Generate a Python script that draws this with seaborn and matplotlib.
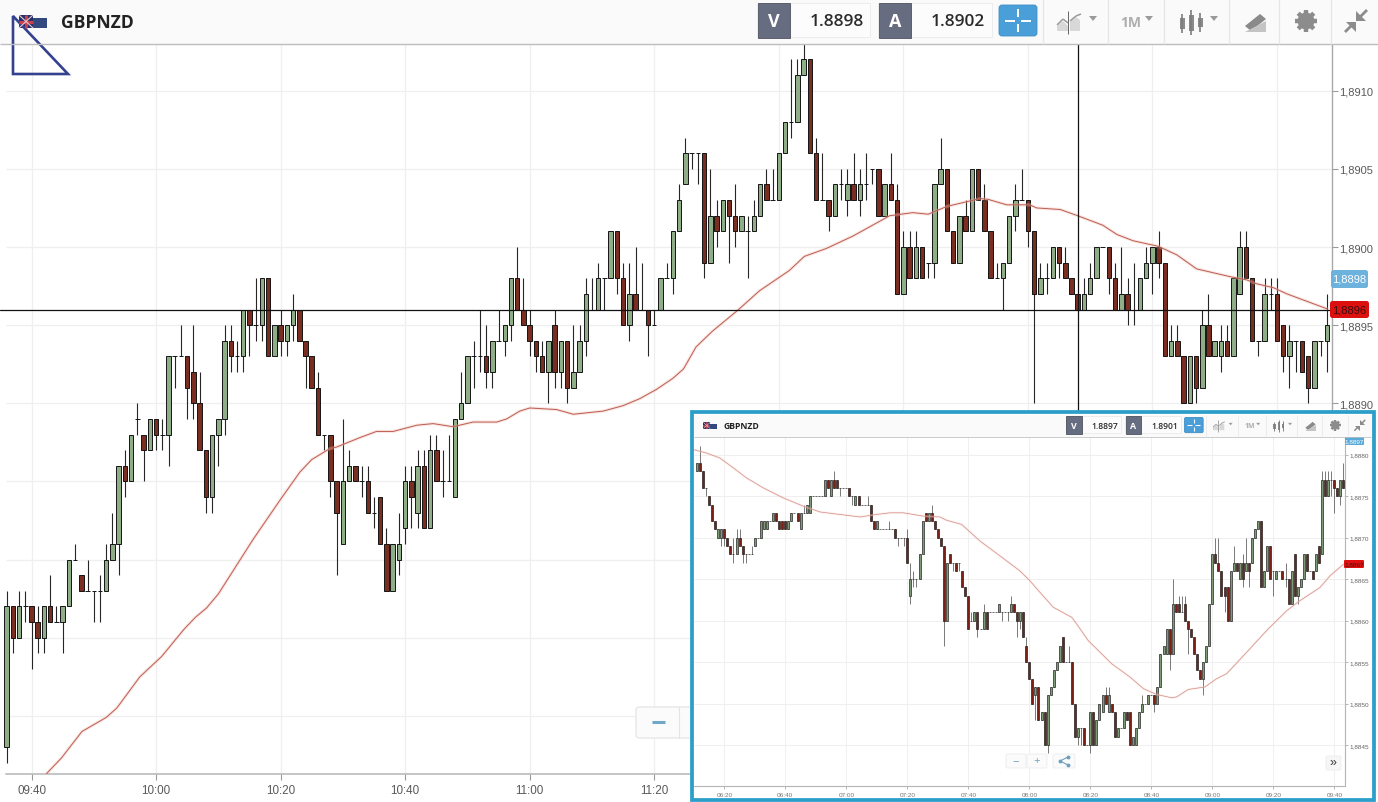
import numpy as np
import pandas as pd
import matplotlib
matplotlib.use("Agg")
import matplotlib.pyplot as plt
from matplotlib.patches import Rectangle, FancyBboxPatch, Polygon, Circle
import seaborn as sns

# ---- main chart data, prices given as pips above 1.8800 ----
main_start_minute = -4  # minutes after 09:40

main_open = [
    68, 77, 75, 77, 77, 76, 75, 77, 76, 76, 77, 80, 79, 78, 78, 78, 78, 80, 81, 86,
    85, 89, 88, 87, 89, 88, 88, 93, 93, 93, 92, 90, 87, 84, 88, 89, 94, 93, 93, 96,
    95, 95, 98, 93, 95, 94, 95, 96, 94, 93, 91, 88, 88, 85, 81, 85, 86, 85, 85, 83,
    84, 81, 78, 80, 82, 85, 83, 86, 82, 87, 85, 85, 84, 89, 90, 93, 93, 93, 92, 94,
    94, 95, 98, 96, 95, 94, 93, 92, 95, 92, 94, 91, 92, 94, 96, 96, 98, 98, 101, 98,
    95, 97, 96, 96, 95, 96, 98, 98, 101, 104, 106, 106, 106, 99, 102, 101, 103, 102, 101, 101,
    101, 102, 104, 103, 103, 106, 108, 108, 111, 112, 106, 103, 103, 102, 104, 103, 104, 103, 104, 105,
    105, 102, 104, 103, 97, 100, 98, 100, 99, 99, 104, 105, 101, 99, 102, 101, 105, 103, 101, 98,
    98, 99, 102, 103, 103, 101, 97, 98, 98, 100, 99, 98, 97, 96, 97, 98, 100, 100, 98, 96,
    97, 96, 96, 98, 99, 100, 99, 93, 94, 93, 90, 93, 91, 95, 93, 93, 94, 93, 97, 100,
    98, 94, 94, 97, 97, 95, 93, 94, 94, 93, 91, 94, 94,
]
main_close = [
    77, 75, 77, 77, 76, 75, 77, 76, 76, 77, 80, 80, 78, 78, 78, 78, 80, 81, 86, 85,
    88, 89, 87, 89, 88, 88, 93, 93, 93, 91, 90, 87, 84, 88, 89, 94, 93, 93, 96, 95,
    95, 98, 93, 95, 94, 95, 96, 94, 93, 91, 88, 88, 85, 83, 85, 86, 85, 85, 83, 83,
    81, 78, 81, 81, 85, 84, 86, 82, 87, 85, 85, 85, 89, 90, 93, 93, 93, 92, 94, 94,
    95, 98, 96, 95, 94, 93, 92, 94, 92, 94, 91, 92, 94, 97, 96, 98, 98, 101, 98, 95,
    97, 96, 96, 95, 95, 98, 98, 101, 103, 106, 106, 106, 99, 102, 101, 103, 102, 101, 102, 101,
    102, 104, 103, 103, 106, 108, 108, 111, 112, 106, 103, 103, 102, 104, 104, 104, 103, 104, 104, 105,
    102, 104, 103, 97, 100, 98, 100, 98, 99, 104, 105, 101, 99, 102, 101, 105, 103, 101, 98, 98,
    99, 102, 103, 103, 101, 97, 98, 98, 100, 99, 98, 97, 96, 97, 98, 100, 100, 98, 96, 97,
    96, 96, 98, 99, 100, 99, 93, 94, 93, 90, 93, 91, 95, 93, 94, 94, 93, 98, 100, 98,
    94, 94, 97, 97, 94, 93, 94, 94, 92, 91, 94, 94, 95,
]
main_high = [
    78, 77, 78, 78, 77, 77, 77, 79, 77, 77, 80, 81, 79, 80, 78, 79, 81, 83, 86, 87,
    88, 90, 88, 89, 89, 89, 93, 93, 95, 93, 95, 92, 87, 88, 89, 95, 95, 94, 96, 96,
    98, 98, 98, 95, 96, 95, 97, 96, 94, 93, 92, 88, 88, 85, 89, 87, 86, 86, 86, 84,
    84, 82, 81, 83, 86, 86, 87, 87, 88, 88, 87, 88, 89, 92, 93, 94, 96, 95, 94, 96,
    95, 98, 100, 98, 96, 94, 94, 94, 96, 94, 94, 95, 95, 98, 98, 99, 98, 101, 101, 99,
    99, 100, 99, 96, 96, 98, 99, 101, 104, 107, 106, 106, 106, 105, 103, 103, 103, 104, 102, 102,
    103, 104, 105, 105, 106, 108, 112, 112, 113, 112, 107, 106, 103, 104, 105, 105, 106, 105, 106, 105,
    105, 104, 106, 104, 101, 101, 101, 100, 99, 104, 107, 105, 101, 102, 103, 105, 105, 104, 101, 99,
    99, 102, 104, 105, 103, 101, 99, 99, 100, 100, 100, 98, 97, 98, 99, 100, 100, 100, 99, 100,
    98, 99, 98, 100, 100, 101, 99, 95, 95, 93, 93, 93, 96, 97, 94, 95, 95, 98, 101, 101,
    98, 94, 98, 98, 98, 95, 95, 94, 94, 93, 94, 94, 97,
]
main_low = [
    67, 74, 75, 76, 73, 74, 74, 76, 76, 74, 77, 80, 78, 78, 76, 76, 78, 80, 79, 84,
    85, 88, 85, 87, 87, 87, 86, 91, 93, 89, 89, 87, 83, 83, 86, 88, 92, 92, 92, 93,
    94, 94, 93, 93, 93, 93, 94, 94, 91, 91, 88, 87, 84, 79, 81, 85, 85, 84, 83, 82,
    81, 78, 78, 79, 81, 82, 82, 82, 82, 85, 84, 85, 84, 89, 90, 91, 92, 91, 91, 94,
    93, 94, 96, 95, 93, 92, 92, 90, 91, 91, 90, 91, 92, 93, 96, 96, 96, 98, 97, 95,
    94, 96, 96, 93, 95, 96, 98, 97, 101, 104, 105, 104, 98, 99, 100, 101, 99, 100, 101, 98,
    101, 102, 103, 103, 103, 106, 107, 108, 111, 106, 103, 103, 101, 102, 103, 102, 103, 102, 103, 104,
    102, 102, 103, 97, 97, 98, 98, 98, 98, 98, 104, 101, 99, 99, 101, 101, 103, 101, 98, 98,
    96, 99, 101, 103, 100, 90, 97, 97, 98, 98, 98, 97, 96, 96, 97, 98, 100, 97, 96, 96,
    95, 95, 96, 98, 97, 98, 93, 93, 93, 90, 90, 90, 91, 93, 93, 92, 93, 93, 97, 98,
    94, 93, 94, 96, 94, 92, 91, 92, 92, 90, 91, 93, 92,
]

main_ma_minute = [
    2.4, 4.8, 8.1, 12.0, 13.7, 17.4, 20.9, 24.4, 26.3, 28.1, 30.0, 33.2, 35.6, 39.9, 43.1, 45.0, 47.9, 49.0,
    52.7, 55.4, 58.1, 61.9, 64.5, 67.7, 70.9, 74.7, 76.3, 78.4, 80.0, 84.3, 87.0, 91.8, 95.0, 97.7, 100.4,
    103.0, 104.7, 106.7, 109.3, 113.4, 116.9, 121.7, 124.1, 127.6, 131.9, 137.8, 141.5, 144.0, 147.0, 150.2,
    152.3, 153.6, 156.6, 160.3, 161.4, 165.2, 168.0, 172.0, 174.3, 176.9, 180.9, 183.9, 187.1, 192.5, 195.1,
    196.7, 199.4, 201.6, 208.0,
]
main_ma = [
    66.3, 67.3, 69.0, 69.9, 70.5, 72.5, 73.8, 75.5, 76.3, 76.9, 77.8, 79.8, 81.3, 83.8, 85.6, 86.4, 87.1, 87.2,
    87.8, 88.2, 88.2, 88.6, 88.7, 88.5, 88.8, 88.8, 89.0, 89.5, 89.7, 89.6, 89.3, 89.5, 89.85, 90.3, 90.9,
    91.6, 92.2, 93.6, 94.6, 95.95, 97.2, 98.5, 99.4, 99.9, 100.7, 102.0, 102.2, 102.1, 102.6, 102.9,
    103.1, 103.05, 102.7, 102.7, 102.5, 102.4, 102.0, 101.4, 100.8, 100.4, 100.05, 99.5, 98.6, 98.1, 97.9,
    97.65, 97.4, 97.0, 96.05,
]

main_grid_minutes = [0, 20, 40, 60, 80, 100, 120, 140, 160, 180, 200]
main_time_ticks = [0, 20, 40, 60, 80, 100]
main_time_labels = ["09:40", "10:00", "10:20", "10:40", "11:00", "11:20"]
main_grid_levels = [70, 75, 80, 85, 90, 95, 100, 105, 110]
main_price_ticks = [90, 95, 100, 105, 110]
main_price_labels = ["1,8890", "1,8895", "1,8900", "1,8905", "1,8910"]
main_cross_level = 96
main_cross_minute = 168

# ---- inset chart data, pips above 1.8800 ----
inset_start_minute = -9  # minutes after 06:20

inset_open = [
    78, 79, 78, 76, 75, 74, 72, 70, 70, 71, 70, 69, 68, 68, 70, 69, 68, 68, 68, 69,
    70, 70, 71, 71, 72, 72, 73, 72, 72, 72, 71, 72, 73, 73, 71, 73, 73, 73, 75, 75,
    75, 75, 75, 77, 75, 77, 77, 76, 76, 76, 76, 75, 74, 75, 74, 74, 74, 74, 72, 71,
    71, 71, 71, 71, 71, 71, 70, 70, 70, 70, 63, 65, 65, 65, 68, 73, 72, 73, 72, 71,
    70, 69, 60, 68, 67, 67, 67, 66, 64, 63, 60, 60, 61, 59, 59, 61, 61, 61, 61, 61,
    61, 61, 61, 61, 62, 61, 60, 61, 57, 55, 53, 51, 52, 48, 49, 45, 51, 52, 54, 55,
    58, 55, 55, 55, 50, 46, 47, 47, 45, 45, 49, 45, 48, 49, 51, 49, 50, 49, 46, 47,
    47, 49, 49, 45, 45, 47, 49, 50, 50, 51, 51, 50, 52, 56, 56, 59, 56, 62, 62, 61,
    62, 60, 59, 58, 56, 54, 53, 55, 57, 62, 68, 67, 66, 64, 64, 60, 66, 67, 65, 67,
    66, 67, 67, 70, 71, 72, 64, 66, 69, 66, 65, 66, 66, 65, 65, 62, 68, 63, 64, 65,
    68, 66, 66, 66, 69, 68, 77, 75, 77, 77, 76, 75, 77,
]
inset_close = [
    79, 78, 76, 76, 74, 72, 71, 71, 71, 70, 69, 68, 68, 70, 69, 68, 68, 68, 68, 70,
    70, 72, 72, 72, 72, 73, 72, 71, 71, 71, 72, 73, 73, 72, 73, 73, 74, 75, 75, 75,
    75, 75, 77, 76, 77, 76, 76, 76, 76, 76, 75, 75, 75, 74, 74, 74, 74, 72, 71, 72,
    71, 71, 71, 71, 71, 70, 70, 70, 70, 67, 65, 65, 65, 68, 72, 72, 73, 72, 71, 70,
    69, 60, 67, 67, 67, 66, 67, 64, 63, 59, 60, 61, 59, 59, 61, 59, 61, 61, 61, 62,
    61, 61, 61, 62, 61, 60, 61, 58, 55, 53, 50, 52, 48, 49, 45, 51, 52, 54, 55, 57,
    55, 55, 55, 50, 46, 47, 47, 45, 45, 49, 45, 48, 50, 51, 50, 51, 49, 46, 47, 47,
    49, 48, 45, 46, 47, 49, 50, 50, 51, 51, 50, 52, 56, 57, 59, 56, 62, 61, 61, 61,
    60, 59, 58, 56, 54, 53, 55, 57, 62, 68, 67, 66, 63, 63, 60, 66, 67, 66, 67, 65,
    67, 66, 70, 71, 72, 64, 66, 69, 65, 66, 66, 66, 65, 65, 62, 66, 63, 64, 65, 68,
    66, 66, 65, 68, 67, 77, 75, 77, 77, 76, 75, 77, 76,
]
inset_high = [
    79, 81, 78, 76, 75, 74, 72, 71, 71, 71, 70, 69, 70, 71, 71, 69, 68, 68, 69, 70,
    70, 72, 72, 72, 72, 73, 73, 72, 72, 72, 72, 73, 73, 73, 73, 74, 74, 75, 75, 75,
    75, 75, 77, 77, 77, 78, 77, 76, 76, 76, 76, 75, 75, 75, 74, 74, 75, 74, 72, 72,
    71, 71, 71, 72, 71, 71, 70, 70, 70, 71, 67, 66, 65, 68, 72, 73, 73, 74, 72, 71,
    70, 69, 67, 68, 67, 67, 67, 66, 64, 63, 61, 61, 61, 59, 62, 61, 61, 61, 61, 62,
    61, 61, 61, 63, 62, 61, 61, 61, 58, 55, 53, 52, 52, 49, 49, 51, 52, 54, 55, 57,
    58, 55, 57, 55, 50, 47, 47, 47, 45, 49, 49, 48, 50, 51, 52, 52, 50, 49, 47, 47,
    49, 49, 49, 46, 47, 49, 51, 50, 51, 51, 51, 52, 56, 57, 59, 59, 65, 62, 63, 63,
    63, 60, 59, 58, 56, 54, 55, 57, 62, 68, 70, 70, 66, 64, 64, 66, 69, 67, 67, 68,
    70, 67, 70, 71, 72, 72, 66, 69, 69, 66, 66, 66, 66, 67, 65, 66, 68, 64, 65, 68,
    68, 66, 66, 68, 69, 78, 78, 78, 78, 77, 76, 77, 79,
]
inset_low = [
    78, 78, 76, 75, 74, 72, 71, 70, 69, 69, 69, 68, 67, 68, 69, 67, 67, 68, 68, 69,
    70, 70, 71, 71, 72, 72, 72, 71, 71, 71, 71, 72, 73, 72, 71, 73, 73, 73, 75, 75,
    75, 75, 75, 76, 75, 76, 76, 75, 76, 76, 75, 74, 74, 74, 74, 74, 74, 72, 71, 71,
    71, 71, 71, 71, 71, 70, 69, 70, 69, 67, 62, 64, 64, 65, 68, 72, 72, 72, 71, 70,
    69, 57, 60, 67, 66, 66, 66, 64, 63, 59, 60, 60, 58, 59, 59, 59, 61, 61, 61, 61,
    60, 61, 60, 61, 61, 58, 59, 58, 55, 53, 50, 48, 48, 48, 45, 44, 51, 52, 54, 55,
    55, 55, 55, 50, 46, 45, 45, 45, 45, 44, 45, 45, 48, 49, 50, 49, 49, 46, 46, 47,
    47, 48, 45, 45, 45, 47, 49, 50, 50, 51, 49, 50, 52, 56, 56, 54, 56, 61, 61, 61,
    60, 56, 58, 56, 54, 53, 51, 55, 57, 62, 67, 66, 63, 61, 60, 60, 66, 66, 65, 64,
    66, 64, 67, 70, 71, 64, 64, 66, 65, 63, 65, 66, 65, 64, 62, 62, 63, 62, 64, 65,
    66, 66, 65, 66, 67, 68, 75, 75, 75, 73, 75, 74, 76,
]

inset_ma_minute = [
    -9.9, -5.8, -1.4, 3.0, 7.3, 12.8, 19.3, 25.9, 31.4, 37.9, 44.5, 49.9, 54.3, 58.7, 65.2, 70.7, 72.9, 77.8,
    83.8, 90.4, 96.9, 100.2, 103.5, 107.9, 113.9, 115.5, 119.3, 127.0, 133.0, 137.4, 141.7, 146.7, 148.3,
    152.1, 157.6, 161.4, 164.7, 171.3, 177.8, 184.4, 188.7, 195.3, 198.6, 203.0,
]
inset_ma = [
    80.6, 80.2, 79.6, 78.4, 77.2, 76.0, 74.8, 73.8, 73.1, 72.8, 72.5, 72.8, 73.0, 73.0, 72.6, 72.5, 72.1, 71.6,
    69.6, 67.8, 66.0, 64.8, 63.4, 61.6, 60.4, 59.6, 57.6, 54.8, 53.2, 51.8, 51.1, 50.7, 50.8,
    51.7, 52.0, 53.0, 53.6, 56.2, 58.8, 61.2, 62.4, 64.0, 65.4, 66.8,
]

inset_time_ticks = [0, 20, 40, 60, 80, 100, 120, 140, 160, 180, 200]
inset_time_labels = ["06:20", "06:40", "07:00", "07:20", "07:40", "08:00", "08:20", "08:40", "09:00", "09:20", "09:40"]
inset_price_ticks = [45, 50, 55, 60, 65, 70, 75, 80]
inset_price_labels = ["1,8845", "1,8850", "1,8855", "1,8860", "1,8865", "1,8870", "1,8875", "1,8880"]

W, H = 1378, 803
UP = "#8fae88"
DOWN = "#7a2e22"
FRAME = "#2b9fc9"
ICON = "#9a9a9a"
TICK_TEXT = "#5a5a5a"

sns.set_theme(style="white")
plt.rcParams["font.family"] = ["Liberation Sans", "DejaVu Sans"]

fig = plt.figure(figsize=(W / 100, H / 100), dpi=100, facecolor="white")


def px_axes(left, top, right, bottom, zorder):
    ax = fig.add_axes([left / W, 1 - bottom / H, (right - left) / W, (bottom - top) / H])
    ax.set_zorder(zorder)
    return ax


def price(pips):
    return 1.88 + np.asarray(pips, dtype=float) / 10000


def draw_candles(ax, start, opens, highs, lows, closes, width, edge_lw, wick_lw, up, down, wick):
    df = pd.DataFrame({"open": price(opens), "high": price(highs), "low": price(lows), "close": price(closes)})
    df["minute"] = start + np.arange(len(df))
    df["rising"] = df["close"] >= df["open"]
    ax.vlines(df["minute"], df["low"], df["high"], color=wick, lw=wick_lw, zorder=3)
    bottoms = df[["open", "close"]].min(axis=1)
    heights = (df["close"] - df["open"]).abs()
    colors = [up if r else down for r in df["rising"]]
    ax.bar(df["minute"], heights, bottom=bottoms, width=width, color=colors,
           edgecolor="#141414", linewidth=edge_lw, zorder=4)


def draw_ma(ax, minutes, values, color, halo, lw):
    df = pd.DataFrame({"minute": minutes, "price": price(values)})
    sns.lineplot(data=df, x="minute", y="price", ax=ax, color=halo, lw=lw * 3.2, alpha=0.35,
                 estimator=None, sort=False, legend=False, zorder=5, solid_joinstyle="round")
    sns.lineplot(data=df, x="minute", y="price", ax=ax, color=color, lw=lw,
                 estimator=None, sort=False, legend=False, zorder=6, solid_joinstyle="round")


def draw_header(ax, ox, oy, s, bid, ask):
    def X(v):
        return ox + v * s

    def Y(v):
        return oy + v * s

    def box(x0, y0, x1, y1, fc, ec="none", lw=0.0, pad=0.0):
        if pad > 0:
            p = FancyBboxPatch((X(x0), Y(y0)), (x1 - x0) * s, (y1 - y0) * s,
                               boxstyle=f"round,pad=0,rounding_size={pad * s}", fc=fc, ec=ec, lw=lw)
        else:
            p = Rectangle((X(x0), Y(y0)), (x1 - x0) * s, (y1 - y0) * s, fc=fc, ec=ec, lw=lw)
        ax.add_patch(p)

    def seg(x0, y0, x1, y1, color, lw):
        ax.plot([X(x0), X(x1)], [Y(y0), Y(y1)], color=color, lw=lw * max(s, 0.55), solid_capstyle="butt")

    def caret(cx, cy):
        ax.add_patch(Polygon([(X(cx - 4), Y(cy - 2)), (X(cx + 4), Y(cy - 2)), (X(cx), Y(cy + 3))], fc=ICON, ec="none"))

    box(0, 0, 1378, 45, "#fafafa")
    seg(0, 45, 1378, 45, "#bdbdbd", 1.0)

    # flag
    box(19, 16, 33, 29, "#27306b")
    seg(19, 22.5, 33, 22.5, "#c9404c", 2.2)
    seg(26, 16, 26, 29, "#c9404c", 2.2)
    seg(19, 16, 33, 29, "#e8c8cc", 0.8)
    seg(19, 29, 33, 16, "#e8c8cc", 0.8)
    box(33, 19, 47, 29, "#33487f")
    ax.text(X(61), Y(23), "GBPNZD", family="Open Sans", weight="bold", fontsize=12.6 * s, color="#222222",
            ha="left", va="center")

    # quote boxes
    for x0, x1, letter, quote in [(758, 790, "V", bid), (879, 911, "A", ask)]:
        box(x0 - 1, 4, x1 + (80 if letter == "V" else 81), 38, "#fcfcfc", "#ececec", 0.7)
        box(x0, 4, x1, 39, "#676d80", "#3a3f4c", 0.5)
        ax.text(X((x0 + x1) / 2), Y(22), letter, family="Open Sans", weight="bold", fontsize=13 * s, color="white",
                ha="center", va="center")
        ax.text(X(x1 + 74), Y(22), quote, family="Open Sans", weight="semibold", fontsize=12.4 * s, color="#2b2b2b",
                ha="right", va="center")

    # crosshair button
    box(999, 6, 1037, 37, "#4a9fd9", "#3f8fc4", 0.6, pad=3)
    seg(1005, 21.5, 1015, 21.5, "white", 1.4)
    seg(1021, 21.5, 1031, 21.5, "white", 1.4)
    seg(1018, 10, 1018, 18, "white", 1.4)
    seg(1018, 25, 1018, 33, "white", 1.4)

    for sep in [1043, 1108, 1164, 1229, 1279, 1331]:
        seg(sep, 0, sep, 45, "#e6e6e6", 0.9)

    # line chart icon
    ax.add_patch(Polygon([(X(1057), Y(32)), (X(1057), Y(27)), (X(1063), Y(22)), (X(1068), Y(27)), (X(1068), Y(32))],
                         fc="#d8d8d8", ec="none"))
    ax.add_patch(Polygon([(X(1070), Y(32)), (X(1070), Y(23)), (X(1076), Y(18)), (X(1080), Y(21)), (X(1080), Y(32))],
                         fc="#d8d8d8", ec="none"))
    seg(1057, 26, 1063, 20, ICON, 1.1)
    seg(1063, 20, 1068, 24, ICON, 1.1)
    seg(1070, 22, 1076, 17, ICON, 1.1)
    seg(1076, 17, 1081, 15, ICON, 1.1)
    seg(1068, 12, 1068, 35, "#666666", 0.7)
    caret(1093, 19)

    ax.text(X(1131), Y(23), "1M", family="Open Sans", weight="bold", fontsize=10 * s, color="#adadad",
            ha="center", va="center")
    caret(1149, 19)

    # candle icon
    for cx, top, low, y0, y1 in [(1182, 15, 34, 19, 30), (1191, 11, 36, 16, 32), (1200, 14, 33, 19, 28)]:
        seg(cx, top, cx, low, "#7d7d7d", 1.2)
        box(cx - 2.5, y0, cx + 2.5, y1, "#8a8a8a")
    caret(1214, 19)

    # drawing icon
    ax.add_patch(Polygon([(X(1245), Y(27)), (X(1260), Y(15)), (X(1266), Y(20)), (X(1251), Y(32))], fc="#8a8a8a", ec="none"))
    ax.add_patch(Polygon([(X(1245), Y(33)), (X(1266), Y(33)), (X(1266), Y(22))], fc="#c4c4c4", ec="none"))

    # gear
    for a in np.arange(0, 180, 45):
        dx, dy = 11 * np.cos(np.radians(a)), 11 * np.sin(np.radians(a))
        seg(1306 - dx, 22 - dy, 1306 + dx, 22 + dy, "#8c8c8c", 3.2)
    ax.add_patch(Circle((X(1306), Y(22)), 8.5 * s, fc="#8c8c8c", ec="none"))
    ax.add_patch(Circle((X(1306), Y(22)), 3.8 * s, fc="#fafafa", ec="none"))

    # compress arrows
    seg(1360, 18, 1367, 11, "#8c8c8c", 2.0)
    ax.add_patch(Polygon([(X(1356), Y(12)), (X(1356), Y(22)), (X(1366), Y(22))], fc="#8c8c8c", ec="none"))
    seg(1352, 26, 1345, 33, "#8c8c8c", 2.0)
    ax.add_patch(Polygon([(X(1346), Y(23)), (X(1356), Y(23)), (X(1356), Y(33))], fc="#8c8c8c", ec="none"))


# ---- main chart ----
ax = px_axes(0, 45, 1331.7, 775, 1)
ax.set_xlim((0 - 31.5) / 6.2275, (1331.7 - 31.5) / 6.2275)
ax.set_ylim(price(66.28), price(112.99))
ax.patch.set_facecolor("white")

ax.hlines(price(main_grid_levels), -4.1, 209, color="#efefef", lw=0.9, zorder=1)
ax.vlines(main_grid_minutes, ax.get_ylim()[0], ax.get_ylim()[1], color="#efefef", lw=0.9, zorder=1)

draw_candles(ax, main_start_minute, main_open, main_high, main_low, main_close,
             0.72, 0.7, 0.8, UP, DOWN, "#262626")
draw_ma(ax, main_ma_minute, main_ma, "#bd5f52", "#efb9b1", 0.72)

ax.axhline(price(main_cross_level), color="#111111", lw=0.9, zorder=7)
ax.axvline(main_cross_minute, color="#111111", lw=0.9, zorder=7)

for side in ["top", "left"]:
    ax.spines[side].set_visible(False)
ax.spines["bottom"].set_color("#b5b5b5")
ax.spines["bottom"].set_linewidth(1.1)
ax.spines["bottom"].set_bounds(-4.1, ax.get_xlim()[1])
ax.spines["right"].set_color("#a8a8a8")
ax.spines["right"].set_linewidth(1.0)
ax.set_xlabel("")
ax.set_ylabel("")
ax.yaxis.tick_right()
ax.set_xticks(main_time_ticks, main_time_labels)
ax.set_yticks(price(main_price_ticks), main_price_labels)
ax.tick_params(axis="x", length=4, width=0.8, color="#9a9a9a", labelsize=8.4, labelcolor=TICK_TEXT, pad=3,
               bottom=True)
ax.tick_params(axis="y", length=4, width=0.8, color="#9a9a9a", labelsize=8, labelcolor=TICK_TEXT, pad=1,
               right=True, left=False)

# ---- chrome under the inset ----
over = px_axes(0, 0, W, H, 2)
over.set_xlim(0, W)
over.set_ylim(H, 0)
over.axis("off")
draw_header(over, 0, 0, 1.0, "1.8898", "1.8902")

# blue triangle mark
over.add_patch(Polygon([(13, 17), (13, 75), (68, 75)], closed=True, fc="none", ec="#33418f", lw=1.9, joinstyle="miter"))

# zoom button
over.add_patch(FancyBboxPatch((636, 708), 60, 31, boxstyle="round,pad=0,rounding_size=3", fc="#fbfbfb", ec="#e8e8e8", lw=1))
over.plot([652, 665], [723, 723], color="#6fa8c9", lw=2.2, solid_capstyle="butt")
over.plot([679, 679], [708, 739], color="#e4e4e4", lw=0.8)

# main price tags
over.add_patch(FancyBboxPatch((1331, 271), 37, 18, boxstyle="round,pad=0,rounding_size=2.5", fc="#6cb2dc", ec="none"))
over.text(1349.5, 280, "1,8898", color="white", fontsize=8, ha="center", va="center")
over.add_patch(FancyBboxPatch((1330, 302), 39, 17, boxstyle="round,pad=0,rounding_size=2.5", fc="#dd1010", ec="none"))
over.text(1349.5, 311, "1,8896", color="#3a0d0d", fontsize=8, ha="center", va="center")

# inset background
over.add_patch(Rectangle((691, 413), 683, 387, fc="white", ec="none"))

# ---- inset chart ----
inset = px_axes(694, 437.5, 1345, 787, 3)
inset.set_xlim((694 - 724.33) / 3.05, (1345 - 724.33) / 3.05)
inset.set_ylim(price(40.06), price(82.2))
inset.patch.set_alpha(0)

inset.hlines(price(inset_price_ticks), inset.get_xlim()[0], inset.get_xlim()[1], color="#efefef", lw=0.7, zorder=1)
inset.vlines(inset_time_ticks, inset.get_ylim()[0], inset.get_ylim()[1], color="#f0f0f0", lw=0.7, zorder=1)
draw_candles(inset, inset_start_minute, inset_open, inset_high, inset_low, inset_close,
             0.66, 0.45, 0.55, "#7d9c76", "#7c1f14", "#555555")
draw_ma(inset, inset_ma_minute, inset_ma, "#d68f86", "#f4cfca", 0.5)

for side in ["top", "left"]:
    inset.spines[side].set_visible(False)
inset.spines["bottom"].set_color("#b5b5b5")
inset.spines["bottom"].set_linewidth(0.8)
inset.spines["right"].set_color("#b5b5b5")
inset.spines["right"].set_linewidth(0.8)
inset.set_xlabel("")
inset.set_ylabel("")
inset.yaxis.tick_right()
inset.set_xticks(inset_time_ticks, inset_time_labels)
inset.set_yticks(price(inset_price_ticks), inset_price_labels)
inset.tick_params(axis="x", length=2, width=0.5, color="#9a9a9a", labelsize=4.6, labelcolor="#777777", pad=2,
                  bottom=True)
inset.tick_params(axis="y", length=2, width=0.5, color="#9a9a9a", labelsize=4.6, labelcolor="#666666", pad=1,
                  right=True, left=False)

# ---- inset chrome ----
top = px_axes(0, 0, W, H, 4)
top.set_xlim(0, W)
top.set_ylim(H, 0)
top.axis("off")
draw_header(top, 694, 415.5, 0.491, "1.8897", "1.8901")

top.add_patch(FancyBboxPatch((1345, 438), 19, 8, boxstyle="round,pad=0,rounding_size=1", fc="#5aaad8", ec="none"))
top.text(1354.5, 442, "1,8897", color="white", fontsize=4.6, ha="center", va="center")
top.add_patch(FancyBboxPatch((1344, 561), 20, 8, boxstyle="round,pad=0,rounding_size=1", fc="#e01010", ec="none"))
top.text(1354, 565, "1,8867", color="#4a0d0d", fontsize=4.6, ha="center", va="center")

# inset zoom and share buttons
for x0, x1, mark in [(1006, 1026, "\u2212"), (1027, 1047, "+"), (1053, 1075, "")]:
    top.add_patch(FancyBboxPatch((x0, 755), x1 - x0, 14, boxstyle="round,pad=0,rounding_size=1.5",
                                 fc="#fbfbfb", ec="#ececec", lw=0.6))
    if mark:
        top.text((x0 + x1) / 2, 761.5, mark, color="#6f9fbd", fontsize=8, ha="center", va="center")
top.plot([1068, 1060, 1068], [758, 762, 766], color="#6f9fbd", lw=0.8, marker="o", ms=1.8)
top.add_patch(FancyBboxPatch((1326, 757), 15, 14, boxstyle="round,pad=0,rounding_size=1.5",
                             fc="#f6f6f6", ec="#ececec", lw=0.6))
top.text(1333.5, 763.5, "\u00bb", color="#333333", fontsize=9, ha="center", va="center")

# frame around the inset
top.add_patch(Rectangle((691.5, 413), 682.5, 387.5, fc="none", ec=FRAME, lw=2.7))

fig.savefig("out.png", dpi=100)
